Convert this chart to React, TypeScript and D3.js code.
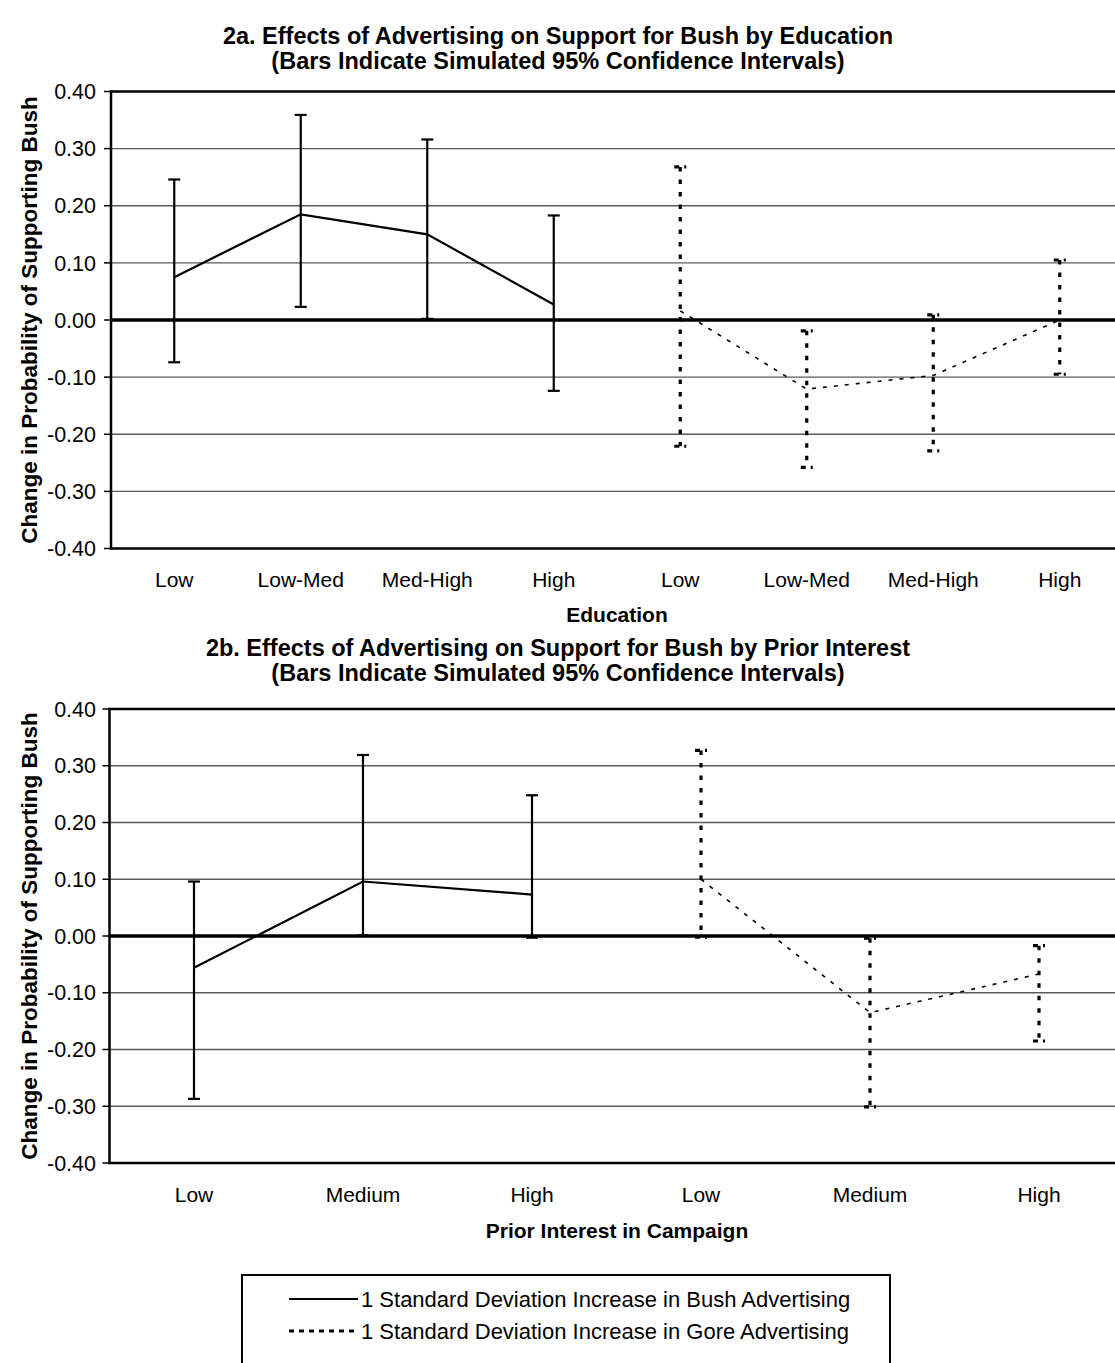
import React from "react";
import * as d3 from "d3";

const FONT = "'Liberation Sans', Arial, Helvetica, sans-serif";

// ---- Data: Figure 2a (Education) ----
const eduLabels = ["Low", "Low-Med", "Med-High", "High", "Low", "Low-Med", "Med-High", "High"];
const bushEduMean = [0.075, 0.185, 0.15, 0.027];
const bushEduLow = [-0.074, 0.023, 0.002, -0.124];
const bushEduHigh = [0.246, 0.359, 0.316, 0.183];
const goreEduMean = [0.016, -0.121, -0.097, 0.0];
const goreEduLow = [-0.221, -0.258, -0.229, -0.095];
const goreEduHigh = [0.268, -0.019, 0.009, 0.105];

// ---- Data: Figure 2b (Prior Interest) ----
const intLabels = ["Low", "Medium", "High", "Low", "Medium", "High"];
const bushIntMean = [-0.056, 0.096, 0.073];
const bushIntLow = [-0.287, 0.001, -0.003];
const bushIntHigh = [0.096, 0.319, 0.248];
const goreIntMean = [0.1, -0.135, -0.067];
const goreIntLow = [-0.002, -0.301, -0.185];
const goreIntHigh = [0.327, -0.004, -0.017];

const yTicks = [0.4, 0.3, 0.2, 0.1, 0.0, -0.1, -0.2, -0.3, -0.4];
const yAxisTitle = "Change in Probability of Supporting Bush";
const legendLabels = [
  "1 Standard Deviation Increase in Bush Advertising",
  "1 Standard Deviation Increase in Gore Advertising",
];

type Series = { mean: number[]; low: number[]; high: number[] };

type PanelProps = {
  labels: string[];
  bush: Series;
  gore: Series;
  x0: number;
  x1: number;
  yTop: number;
  yBot: number;
  title1: string;
  title2: string;
  titleY: number;
  catY: number;
  xTitle: string;
  xTitleY: number;
};

function Panel(p: PanelProps) {
  const x = d3
    .scaleBand<number>()
    .domain(d3.range(p.labels.length))
    .range([p.x0, p.x1])
    .padding(0);
  const cx = (i: number) => (x(i) as number) + x.bandwidth() / 2;
  const y = d3.scaleLinear().domain([-0.4, 0.4]).range([p.yBot, p.yTop]);
  const n = p.bush.mean.length;
  const line = d3.line<[number, number]>();
  const bushPts: [number, number][] = p.bush.mean.map((v, i) => [cx(i), y(v)]);
  const gorePts: [number, number][] = p.gore.mean.map((v, i) => [cx(i + n), y(v)]);
  const capW = 6;

  return (
    <g>
      {/* titles */}
      <text x={558} y={p.titleY} textAnchor="middle" fontFamily={FONT} fontWeight="bold" fontSize={23.5}>
        {p.title1}
      </text>
      <text x={558} y={p.titleY + 25} textAnchor="middle" fontFamily={FONT} fontWeight="bold" fontSize={23.5}>
        {p.title2}
      </text>

      {/* gridlines */}
      {yTicks
        .filter((t) => Math.abs(t) > 1e-9 && Math.abs(t) < 0.399)
        .map((t) => (
          <line key={"g" + t} x1={p.x0} x2={p.x1} y1={y(t)} y2={y(t)} stroke="#5a5a5a" strokeWidth={1.3} />
        ))}
      {/* top & bottom border */}
      <line x1={p.x0} x2={p.x1} y1={y(0.4)} y2={y(0.4)} stroke="#000" strokeWidth={2.5} />
      <line x1={p.x0} x2={p.x1} y1={y(-0.4)} y2={y(-0.4)} stroke="#000" strokeWidth={2.5} />
      {/* zero line */}
      <line x1={p.x0} x2={p.x1} y1={y(0)} y2={y(0)} stroke="#000" strokeWidth={3.5} />
      {/* y axis */}
      <line x1={p.x0} x2={p.x0} y1={y(0.4) - 1.2} y2={y(-0.4) + 1.2} stroke="#000" strokeWidth={2.5} />
      {yTicks.map((t) => (
        <g key={"t" + t}>
          <line x1={p.x0 - 7} x2={p.x0} y1={y(t)} y2={y(t)} stroke="#000" strokeWidth={1.5} />
          <text x={96} y={y(t)} dy="0.36em" textAnchor="end" fontFamily={FONT} fontSize={21.5}>
            {t.toFixed(2)}
          </text>
        </g>
      ))}
      <text
        transform={`translate(29,${(p.yTop + p.yBot) / 2}) rotate(-90)`}
        textAnchor="middle"
        dy="0.36em"
        fontFamily={FONT}
        fontWeight="bold"
        fontSize={22.5}
      >
        {yAxisTitle}
      </text>

      {/* category labels */}
      {p.labels.map((l, i) => (
        <text key={"c" + i} x={cx(i)} y={p.catY} textAnchor="middle" fontFamily={FONT} fontSize={21}>
          {l}
        </text>
      ))}
      <text x={617} y={p.xTitleY} textAnchor="middle" fontFamily={FONT} fontWeight="bold" fontSize={21}>
        {p.xTitle}
      </text>

      {/* Bush error bars (solid) */}
      {p.bush.mean.map((_, i) => {
        const xx = cx(i);
        return (
          <g key={"be" + i} stroke="#000" strokeWidth={2.2}>
            <line x1={xx} x2={xx} y1={y(p.bush.high[i])} y2={y(p.bush.low[i])} />
            <line x1={xx - capW} x2={xx + capW} y1={y(p.bush.high[i])} y2={y(p.bush.high[i])} />
            <line x1={xx - capW} x2={xx + capW} y1={y(p.bush.low[i])} y2={y(p.bush.low[i])} />
          </g>
        );
      })}
      <path d={line(bushPts) || ""} fill="none" stroke="#000" strokeWidth={2.2} />

      {/* Gore error bars (dashed) */}
      {p.gore.mean.map((_, i) => {
        const xx = cx(i + n);
        return (
          <g key={"ge" + i} stroke="#000" strokeWidth={3.2}>
            <line x1={xx} x2={xx} y1={y(p.gore.high[i])} y2={y(p.gore.low[i])} strokeDasharray="4.5 8" />
            <line x1={xx - capW} x2={xx + capW} y1={y(p.gore.high[i])} y2={y(p.gore.high[i])} strokeDasharray="5 5" />
            <line x1={xx - capW} x2={xx + capW} y1={y(p.gore.low[i])} y2={y(p.gore.low[i])} strokeDasharray="5 5" />
          </g>
        );
      })}
      <path d={line(gorePts) || ""} fill="none" stroke="#000" strokeWidth={1.6} strokeDasharray="4 7" />
    </g>
  );
}

export default function App() {
  return (
    <svg
      width={1115}
      height={1363}
      viewBox="0 0 1115 1363"
      style={{ position: "absolute", left: 0, top: 0, background: "#fff" }}
    >
      <rect x={0} y={0} width={1115} height={1363} fill="#fff" />
      <Panel
        labels={eduLabels}
        bush={{ mean: bushEduMean, low: bushEduLow, high: bushEduHigh }}
        gore={{ mean: goreEduMean, low: goreEduLow, high: goreEduHigh }}
        x0={111}
        x1={1123}
        yTop={91.5}
        yBot={548.5}
        title1="2a. Effects of Advertising on Support for Bush by Education"
        title2="(Bars Indicate Simulated 95% Confidence Intervals)"
        titleY={44}
        catY={587}
        xTitle="Education"
        xTitleY={622}
      />
      <Panel
        labels={intLabels}
        bush={{ mean: bushIntMean, low: bushIntLow, high: bushIntHigh }}
        gore={{ mean: goreIntMean, low: goreIntLow, high: goreIntHigh }}
        x0={109.5}
        x1={1123.5}
        yTop={709}
        yBot={1163}
        title1="2b. Effects of Advertising on Support for Bush by Prior Interest"
        title2="(Bars Indicate Simulated 95% Confidence Intervals)"
        titleY={656}
        catY={1202}
        xTitle="Prior Interest in Campaign"
        xTitleY={1238}
      />
      {/* legend */}
      <rect x={242} y={1275} width={648} height={110} fill="none" stroke="#000" strokeWidth={2} />
      <line x1={289} x2={358} y1={1299} y2={1299} stroke="#000" strokeWidth={2.2} />
      <line x1={289} x2={358} y1={1331} y2={1331} stroke="#000" strokeWidth={3} strokeDasharray="5 5" />
      {legendLabels.map((l, i) => (
        <text key={l} x={361} y={1299 + i * 32} dy="0.36em" fontFamily={FONT} fontSize={22}>
          {l}
        </text>
      ))}
    </svg>
  );
}
